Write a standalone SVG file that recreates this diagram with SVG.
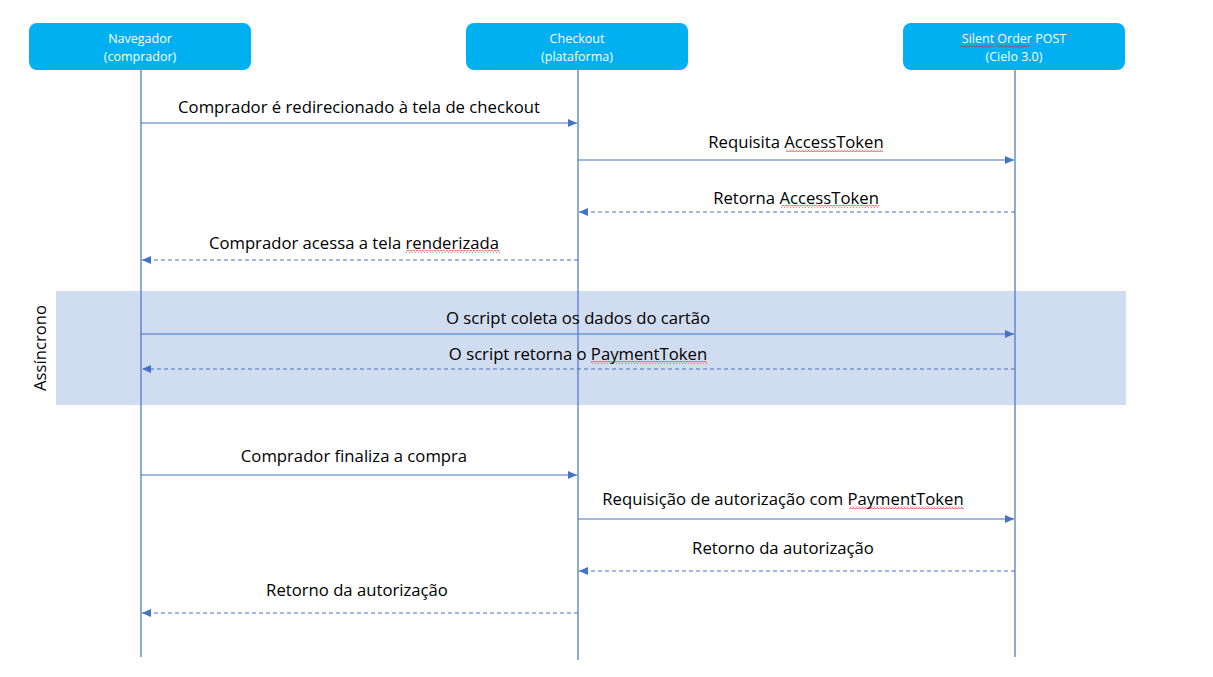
<svg xmlns="http://www.w3.org/2000/svg" width="1213" height="677" viewBox="0 0 1213 677">
<style>
.box{fill:#00B0F0}
.ht{fill:#fff;font-family:"Open Sans","Liberation Sans",sans-serif;font-size:12.5px;text-anchor:middle}
.life{stroke:#4472C4;stroke-width:1.2;fill:none}
.msg{stroke:#4472C4;stroke-width:1.2;fill:none}
.dash{stroke-dasharray:4 3}
.lbl{fill:#000;font-family:"Open Sans","Liberation Sans",sans-serif;font-size:16.7px;text-anchor:middle}
</style>
<defs>
<marker id="ah" markerWidth="10" markerHeight="8" refX="9" refY="4" orient="auto" markerUnits="userSpaceOnUse">
<path d="M0,0 L9,4 L0,8 Z" fill="#4472C4"/>
</marker>
<pattern id="wave" width="3" height="3" patternUnits="userSpaceOnUse">
<path d="M0,2.5 L1.5,0.5 L3,2.5" stroke="#D83030" stroke-width="0.8" fill="none"/>
</pattern>
</defs>
<rect x="56" y="291" width="1070" height="114" fill="#D0DCEF"/>
<text class="lbl" transform="translate(46,348) rotate(-90)">Assíncrono</text>
<g id="navegador">
<rect class="box" x="29" y="23" width="222" height="47" rx="8"/>
<text class="ht" x="140" y="43">Navegador</text>
<text class="ht" x="140" y="61">(comprador)</text>
<line class="life" x1="141" y1="70" x2="141" y2="657"/>
</g>
<g id="checkout">
<rect class="box" x="466" y="23" width="222" height="47" rx="8"/>
<text class="ht" x="577" y="43">Checkout</text>
<text class="ht" x="577" y="61">(plataforma)</text>
<line class="life" x1="578" y1="70" x2="578" y2="660"/>
</g>
<g id="silent">
<rect class="box" x="903" y="23" width="222" height="47" rx="8"/>
<text class="ht" x="1014" y="43">Silent Order POST</text>
<text class="ht" x="1014" y="61">(Cielo 3.0)</text>
<rect x="960" y="45" width="33" height="3" fill="url(#wave)"/>
<rect x="997" y="45" width="32" height="3" fill="url(#wave)"/>
<line class="life" x1="1015" y1="70" x2="1015" y2="657"/>
</g>
<g id="connectors">
<line class="msg" x1="141" y1="123" x2="577" y2="123" marker-end="url(#ah)"/>
<line class="msg" x1="578" y1="160" x2="1014" y2="160" marker-end="url(#ah)"/>
<line class="msg dash" x1="1015" y1="212" x2="579" y2="212" marker-end="url(#ah)"/>
<line class="msg dash" x1="578" y1="260" x2="142" y2="260" marker-end="url(#ah)"/>
<line class="msg" x1="141" y1="334" x2="1014" y2="334" marker-end="url(#ah)"/>
<line class="msg dash" x1="1015" y1="369" x2="142" y2="369" marker-end="url(#ah)"/>
<line class="msg" x1="141" y1="475" x2="577" y2="475" marker-end="url(#ah)"/>
<line class="msg" x1="578" y1="519" x2="1014" y2="519" marker-end="url(#ah)"/>
<line class="msg dash" x1="1015" y1="571" x2="579" y2="571" marker-end="url(#ah)"/>
<line class="msg dash" x1="578" y1="613" x2="142" y2="613" marker-end="url(#ah)"/>
</g>
<g id="labels">
<text class="lbl" x="359" y="113">Comprador é redirecionado à tela de checkout</text>
<text class="lbl" x="796" y="148">Requisita AccessToken</text>
<rect x="786" y="149" width="97" height="3" fill="url(#wave)"/>
<text class="lbl" x="796" y="204">Retorna AccessToken</text>
<rect x="781" y="205" width="98" height="3" fill="url(#wave)"/>
<text class="lbl" x="354" y="249">Comprador acessa a tela renderizada</text>
<rect x="406" y="250" width="94" height="3" fill="url(#wave)"/>
<text class="lbl" x="578" y="324">O script coleta os dados do cartão</text>
<text class="lbl" x="578" y="360">O script retorna o PaymentToken</text>
<rect x="591" y="361" width="116" height="3" fill="url(#wave)"/>
<text class="lbl" x="354" y="462">Comprador finaliza a compra</text>
<text class="lbl" x="783" y="505">Requisição de autorização com PaymentToken</text>
<rect x="849" y="506" width="115" height="3" fill="url(#wave)"/>
<text class="lbl" x="783" y="554">Retorno da autorização</text>
<text class="lbl" x="357" y="596">Retorno da autorização</text>
</g>
</svg>
